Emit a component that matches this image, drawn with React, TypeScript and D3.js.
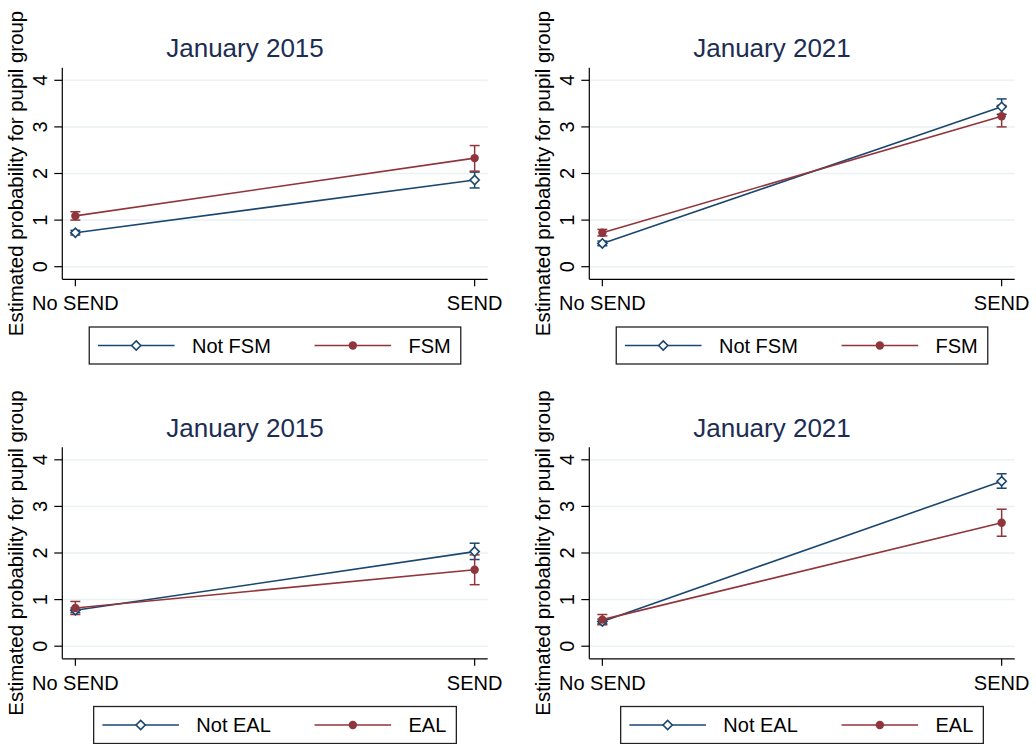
import React from "react";
import * as d3 from "d3";

// SEND status on the x axis
const sendCategories = ["No SEND", "SEND"];
const yTicks = [0, 1, 2, 3, 4];

// Panel titles
const titles2015 = "January 2015";
const titles2021 = "January 2021";

// FSM, January 2015
const fsm15NotEst = [0.73, 1.86];
const fsm15NotLo = [0.68, 1.69];
const fsm15NotHi = [0.78, 2.03];
const fsm15Est = [1.09, 2.33];
const fsm15Lo = [1.0, 2.05];
const fsm15Hi = [1.18, 2.6];

// FSM, January 2021
const fsm21NotEst = [0.5, 3.43];
const fsm21NotLo = [0.45, 3.27];
const fsm21NotHi = [0.55, 3.6];
const fsm21Est = [0.73, 3.23];
const fsm21Lo = [0.66, 3.0];
const fsm21Hi = [0.8, 3.46];

// EAL, January 2015
const eal15NotEst = [0.77, 2.03];
const eal15NotLo = [0.72, 1.86];
const eal15NotHi = [0.82, 2.21];
const eal15Est = [0.82, 1.64];
const eal15Lo = [0.68, 1.32];
const eal15Hi = [0.96, 1.96];

// EAL, January 2021
const eal21NotEst = [0.53, 3.54];
const eal21NotLo = [0.48, 3.39];
const eal21NotHi = [0.58, 3.7];
const eal21Est = [0.57, 2.65];
const eal21Lo = [0.46, 2.36];
const eal21Hi = [0.68, 2.94];

const NAVY = "#1a476f";
const MAROON = "#90353b";
const GRID = "#eaf2f3";
const TITLE = "#1c2d54";
const FONT = "'Liberation Sans', Arial, Helvetica, sans-serif";

type Series = { name: string; est: number[]; lo: number[]; hi: number[] };

function textWidth(txt: string, size: number): number {
  const c = document.createElement("canvas").getContext("2d");
  if (!c) return txt.length * size * 0.55;
  c.font = `${size}px ${FONT}`;
  return c.measureText(txt).width;
}

// plot area (panel-local coordinates)
const PL = 62.3;
const PR = 487.7;
const PT = 67.7;
const PB = 279.3;

function Panel({ title, a, b, dx, dy }: { title: string; a: Series; b: Series; dx: number; dy: number }) {
  const x = d3.scalePoint<string>().domain(sendCategories).range([PL, PR]).padding(0.0327);
  const y = d3.scaleLinear().domain([0, 4]).range([266.7, 80.3]);
  const line = d3
    .line<number>()
    .x((_, i) => x(sendCategories[i]) as number)
    .y((v) => y(v));

  const cx = (PL + PR) / 2;
  const cy = (PT + PB) / 2;

  // legend layout
  const pad = 8.7;
  const key = 76.6;
  const gap = 17.4;
  const colGap = 43.7;
  const padR = 10;
  const w1 = textWidth(a.name, 20);
  const w2 = textWidth(b.name, 20);
  const legW = pad + key + gap + w1 + colGap + key + gap + w2 + padR;
  const legX = cx - legW / 2;
  const legY = 327;
  const legH = 37;
  const item2X = legX + pad + key + gap + w1 + colGap;
  const legMid = legY + legH / 2;

  const diamond = (px: number, py: number, k: string) => (
    <path
      key={k}
      d={`M${px},${py - 4.6}L${px + 4.6},${py}L${px},${py + 4.6}L${px - 4.6},${py}Z`}
      fill="white"
      stroke={NAVY}
      strokeWidth={1.6}
    />
  );
  const dot = (px: number, py: number, k: string) => <circle key={k} cx={px} cy={py} r={4.2} fill={MAROON} />;

  const ci = (s: Series, color: string) =>
    sendCategories.map((c, i) => {
      const px = x(c) as number;
      return (
        <g key={`${s.name}-ci-${i}`} stroke={color} strokeWidth={1.5}>
          <line x1={px} x2={px} y1={y(s.lo[i])} y2={y(s.hi[i])} />
          <line x1={px - 5} x2={px + 5} y1={y(s.lo[i])} y2={y(s.lo[i])} />
          <line x1={px - 5} x2={px + 5} y1={y(s.hi[i])} y2={y(s.hi[i])} />
        </g>
      );
    });

  return (
    <g transform={`translate(${dx},${dy})`} fontFamily={FONT}>
      <text x={245} y={57} textAnchor="middle" fontSize={26} fill={TITLE}>
        {title}
      </text>
      {/* gridlines */}
      {yTicks.map((t) => (
        <line key={`g${t}`} x1={PL} x2={PR} y1={y(t)} y2={y(t)} stroke={GRID} strokeWidth={1.5} />
      ))}
      {/* y axis */}
      <line x1={PL} x2={PL} y1={PT} y2={PB} stroke="#000" strokeWidth={1.2} />
      {yTicks.map((t) => (
        <g key={`yt${t}`}>
          <line x1={PL - 8} x2={PL} y1={y(t)} y2={y(t)} stroke="#000" strokeWidth={1.2} />
          <text
            transform={`translate(${46.7},${y(t)}) rotate(-90)`}
            textAnchor="middle"
            fontSize={20}
            fill="#000"
          >
            {t}
          </text>
        </g>
      ))}
      <text transform={`translate(${22.7},${cy}) rotate(-90)`} textAnchor="middle" fontSize={20.4} fill="#000">
        Estimated probability for pupil group
      </text>
      {/* x axis */}
      <line x1={PL} x2={PR} y1={PB} y2={PB} stroke="#000" strokeWidth={1.2} />
      {sendCategories.map((c) => (
        <g key={`xt${c}`}>
          <line x1={x(c) as number} x2={x(c) as number} y1={PB} y2={PB + 7} stroke="#000" strokeWidth={1.2} />
          <text x={x(c) as number} y={310} textAnchor="middle" fontSize={20} fill="#000">
            {c}
          </text>
        </g>
      ))}
      {/* confidence intervals */}
      {ci(a, NAVY)}
      {ci(b, MAROON)}
      {/* connected estimates */}
      <path d={line(a.est) as string} fill="none" stroke={NAVY} strokeWidth={1.6} />
      {a.est.map((v, i) => diamond(x(sendCategories[i]) as number, y(v), `a${i}`))}
      <path d={line(b.est) as string} fill="none" stroke={MAROON} strokeWidth={1.6} />
      {b.est.map((v, i) => dot(x(sendCategories[i]) as number, y(v), `b${i}`))}
      {/* legend */}
      <rect x={legX} y={legY} width={legW} height={legH} fill="white" stroke="#222" strokeWidth={1.3} />
      <line x1={legX + pad} x2={legX + pad + key} y1={legMid} y2={legMid} stroke={NAVY} strokeWidth={1.6} />
      {diamond(legX + pad + key / 2, legMid, "lg1")}
      <text x={legX + pad + key + gap} y={legMid + 7.2} fontSize={20} fill="#000">
        {a.name}
      </text>
      <line x1={item2X} x2={item2X + key} y1={legMid} y2={legMid} stroke={MAROON} strokeWidth={1.6} />
      {dot(item2X + key / 2, legMid, "lg2")}
      <text x={item2X + key + gap} y={legMid + 7.2} fontSize={20} fill="#000">
        {b.name}
      </text>
    </g>
  );
}

export default function App() {
  const DX = 527;
  const DY = 379.5;
  return (
    <svg
      width={1036}
      height={744}
      style={{ position: "absolute", left: 0, top: 0, background: "white" }}
    >
      <rect width={1036} height={744} fill="white" />
      <Panel
        title={titles2015}
        a={{ name: "Not FSM", est: fsm15NotEst, lo: fsm15NotLo, hi: fsm15NotHi }}
        b={{ name: "FSM", est: fsm15Est, lo: fsm15Lo, hi: fsm15Hi }}
        dx={0}
        dy={0}
      />
      <Panel
        title={titles2021}
        a={{ name: "Not FSM", est: fsm21NotEst, lo: fsm21NotLo, hi: fsm21NotHi }}
        b={{ name: "FSM", est: fsm21Est, lo: fsm21Lo, hi: fsm21Hi }}
        dx={DX}
        dy={0}
      />
      <Panel
        title={titles2015}
        a={{ name: "Not EAL", est: eal15NotEst, lo: eal15NotLo, hi: eal15NotHi }}
        b={{ name: "EAL", est: eal15Est, lo: eal15Lo, hi: eal15Hi }}
        dx={0}
        dy={DY}
      />
      <Panel
        title={titles2021}
        a={{ name: "Not EAL", est: eal21NotEst, lo: eal21NotLo, hi: eal21NotHi }}
        b={{ name: "EAL", est: eal21Est, lo: eal21Lo, hi: eal21Hi }}
        dx={DX}
        dy={DY}
      />
    </svg>
  );
}
